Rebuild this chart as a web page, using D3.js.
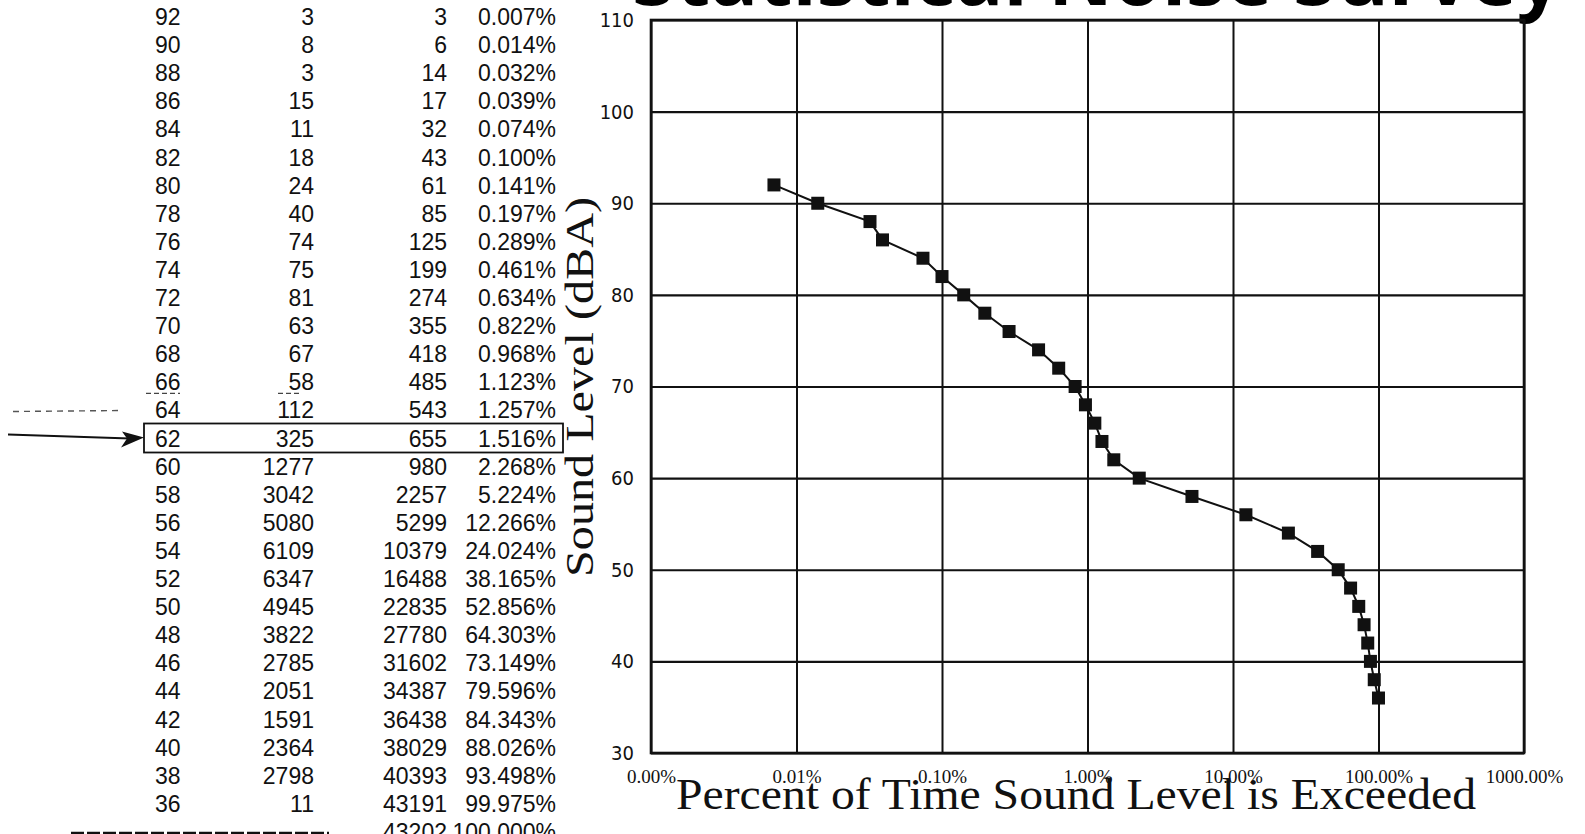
<!DOCTYPE html>
<html>
<head>
<meta charset="utf-8">
<script src="https://cdn.jsdelivr.net/npm/d3@7"></script>
<style>
  body { margin: 0; background: #fff; overflow: hidden; }
  svg { display: block; }
</style>
</head>
<body>
<div id="noise-survey"></div>
<script>
// values
const levels = [92, 90, 88, 86, 84, 82, 80, 78, 76, 74, 72, 70, 68, 66, 64, 62, 60, 58, 56, 54, 52, 50, 48, 46, 44, 42, 40, 38, 36];
const counts = [3, 8, 3, 15, 11, 18, 24, 40, 74, 75, 81, 63, 67, 58, 112, 325, 1277, 3042, 5080, 6109, 6347, 4945, 3822, 2785, 2051, 1591, 2364, 2798, 11];
const cumulative = [3, 6, 14, 17, 32, 43, 61, 85, 125, 199, 274, 355, 418, 485, 543, 655, 980, 2257, 5299, 10379, 16488, 22835, 27780, 31602, 34387, 36438, 38029, 40393, 43191];
const percents = [0.007, 0.014, 0.032, 0.039, 0.074, 0.1, 0.141, 0.197, 0.289, 0.461, 0.634, 0.822, 0.968, 1.123, 1.257, 1.516, 2.268, 5.224, 12.266, 24.024, 38.165, 52.856, 64.303, 73.149, 79.596, 84.343, 88.026, 93.498, 99.975];
const totalCount = 43202;
const totalPercent = 100;
const markedLevel = 62;

const xTicks = [0.001, 0.01, 0.1, 1, 10, 100, 1000];
const yTicks = [30, 40, 50, 60, 70, 80, 90, 100, 110];

const makePlot = () => {
  const size = { width: 1585, height: 834 };
  const container = d3.select('#noise-survey');
  container.selectAll('*').remove();

  const svg = container
    .append('svg')
    .attr('width', size.width)
    .attr('height', size.height);

  // title sits mostly above the page edge, like the cropped scan
  svg
    .append('text')
    .attr('x', 632)
    .attr('y', 5)
    .attr('textLength', 930)
    .attr('lengthAdjust', 'spacingAndGlyphs')
    .style('font-family', '"Open Sans", sans-serif')
    .style('font-weight', 700)
    .style('font-size', '80px')
    .text('Statistical Noise Survey');

  // ---- table on the left ----
  const rows = levels.map((lvl, i) => ({
    level: lvl,
    count: counts[i],
    cum: cumulative[i],
    pct: percents[i],
  }));
  const rowY = (i) => 25 + i * 28.1;
  const cols = [
    { key: 'level', x: 155, anchor: 'start', fmt: (d) => d },
    { key: 'count', x: 314, anchor: 'end', fmt: (d) => d },
    { key: 'cum', x: 447, anchor: 'end', fmt: (d) => d },
    { key: 'pct', x: 556, anchor: 'end', fmt: (d) => `${d.toFixed(3)}%` },
  ];

  const table = svg
    .append('g')
    .style('font-family', '"Liberation Sans", Arial, sans-serif')
    .style('font-size', '23px')
    .attr('fill', '#111');

  const rowG = table
    .selectAll('g.row')
    .data(rows)
    .enter()
    .append('g')
    .attr('class', 'row')
    .attr('transform', (d, i) => `translate(0,${rowY(i)})`);

  cols.forEach((c) => {
    rowG
      .append('text')
      .attr('x', c.x)
      .attr('text-anchor', c.anchor)
      .text((d) => c.fmt(d[c.key]));
  });

  const totalRow = table.append('g').attr('transform', `translate(0,${rowY(rows.length)})`);
  totalRow.append('text').attr('x', 447).attr('text-anchor', 'end').text(totalCount);
  totalRow
    .append('text')
    .attr('x', 556)
    .attr('text-anchor', 'end')
    .text(`${totalPercent.toFixed(3)}%`);

  // dashed rule under the table
  svg
    .append('line')
    .attr('x1', 71)
    .attr('x2', 329)
    .attr('y1', 833)
    .attr('y2', 833)
    .attr('stroke', '#111')
    .attr('stroke-width', 2.5)
    .attr('stroke-dasharray', '13 3');

  // hand marks: box round the 62 dB row and the arrows pointing at it
  const mi = levels.indexOf(markedLevel);
  const boxTop = rowY(mi) - 23;
  svg
    .append('rect')
    .attr('x', 144)
    .attr('y', boxTop)
    .attr('width', 419)
    .attr('height', 29)
    .attr('fill', 'none')
    .attr('stroke', '#111')
    .attr('stroke-width', 1.8);

  svg
    .append('line')
    .attr('x1', 8)
    .attr('y1', boxTop + 11)
    .attr('x2', 130)
    .attr('y2', boxTop + 15)
    .attr('stroke', '#111')
    .attr('stroke-width', 2);
  svg
    .append('path')
    .attr('d', `M122,${boxTop + 8} L144,${boxTop + 14} L121,${boxTop + 24} L127,${boxTop + 15} Z`)
    .attr('fill', '#111');

  svg
    .append('line')
    .attr('x1', 13)
    .attr('y1', boxTop - 12)
    .attr('x2', 122)
    .attr('y2', boxTop - 13)
    .attr('stroke', '#555')
    .attr('stroke-width', 1.4)
    .attr('stroke-dasharray', '6 5');

  // underlines scribbled under the 66 row
  [[146, 180], [278, 300]].forEach(([a, b]) => {
    svg
      .append('line')
      .attr('x1', a)
      .attr('x2', b)
      .attr('y1', rowY(mi - 2) + 3)
      .attr('y2', rowY(mi - 2) + 3)
      .attr('stroke', '#444')
      .attr('stroke-width', 1.3)
      .attr('stroke-dasharray', '5 3');
  });

  // ---- chart on the right ----
  const plot = { left: 651, right: 1524, top: 20, bottom: 753 };
  const x = d3.scaleLog().domain([0.001, 1000]).range([plot.left, plot.right]);
  const y = d3.scaleLinear().domain([30, 110]).range([plot.bottom, plot.top]);

  const yAxis = svg
    .append('g')
    .attr('transform', `translate(${plot.left},0)`)
    .call(
      d3
        .axisLeft(y)
        .tickValues(yTicks)
        .tickSizeInner(-(plot.right - plot.left))
        .tickSizeOuter(0)
        .tickPadding(17),
    );
  yAxis.select('.domain').remove();
  yAxis.selectAll('line').attr('stroke', '#111').attr('stroke-width', 2.2);
  yAxis
    .selectAll('text')
    .attr('fill', '#111')
    .style('font-family', '"DejaVu Sans Condensed", "DejaVu Sans", sans-serif')
    .style('font-size', '20px');

  const xAxis = svg
    .append('g')
    .attr('transform', `translate(0,${plot.bottom})`)
    .call(
      d3
        .axisBottom(x)
        .tickValues(xTicks)
        .tickFormat((d) => `${d.toFixed(2)}%`)
        .tickSizeInner(-(plot.bottom - plot.top))
        .tickSizeOuter(0)
        .tickPadding(17),
    );
  xAxis.select('.domain').remove();
  xAxis.selectAll('line').attr('stroke', '#111').attr('stroke-width', 2);
  xAxis
    .selectAll('text')
    .attr('fill', '#111')
    .style('font-family', '"Liberation Serif", "Times New Roman", serif')
    .style('font-size', '19px');

  svg
    .append('rect')
    .attr('x', plot.left)
    .attr('y', plot.top)
    .attr('width', plot.right - plot.left)
    .attr('height', plot.bottom - plot.top)
    .attr('fill', 'none')
    .attr('stroke', '#111')
    .attr('stroke-width', 2.6);

  const line = d3
    .line()
    .x((d) => x(d.pct))
    .y((d) => y(d.level));

  svg
    .append('path')
    .datum(rows)
    .attr('d', line)
    .attr('fill', 'none')
    .attr('stroke', '#111')
    .attr('stroke-width', 2);

  const sq = 13;
  svg
    .append('g')
    .selectAll('rect')
    .data(rows)
    .enter()
    .append('rect')
    .attr('x', (d) => x(d.pct) - sq / 2)
    .attr('y', (d) => y(d.level) - sq / 2)
    .attr('width', sq)
    .attr('height', sq)
    .attr('fill', '#111');

  // axis titles
  svg
    .append('text')
    .attr('transform', `translate(593,${(577 + 197) / 2}) rotate(-90)`)
    .attr('text-anchor', 'middle')
    .attr('textLength', 380)
    .attr('lengthAdjust', 'spacingAndGlyphs')
    .style('font-family', '"Liberation Serif", "Times New Roman", serif')
    .style('font-size', '41px')
    .attr('fill', '#111')
    .text('Sound Level (dBA)');

  svg
    .append('text')
    .attr('x', 676)
    .attr('y', 809)
    .attr('textLength', 800)
    .attr('lengthAdjust', 'spacingAndGlyphs')
    .style('font-family', '"Liberation Serif", "Times New Roman", serif')
    .style('font-size', '44px')
    .attr('fill', '#111')
    .text('Percent of Time Sound Level is Exceeded');
};

makePlot();
</script>
</body>
</html>
